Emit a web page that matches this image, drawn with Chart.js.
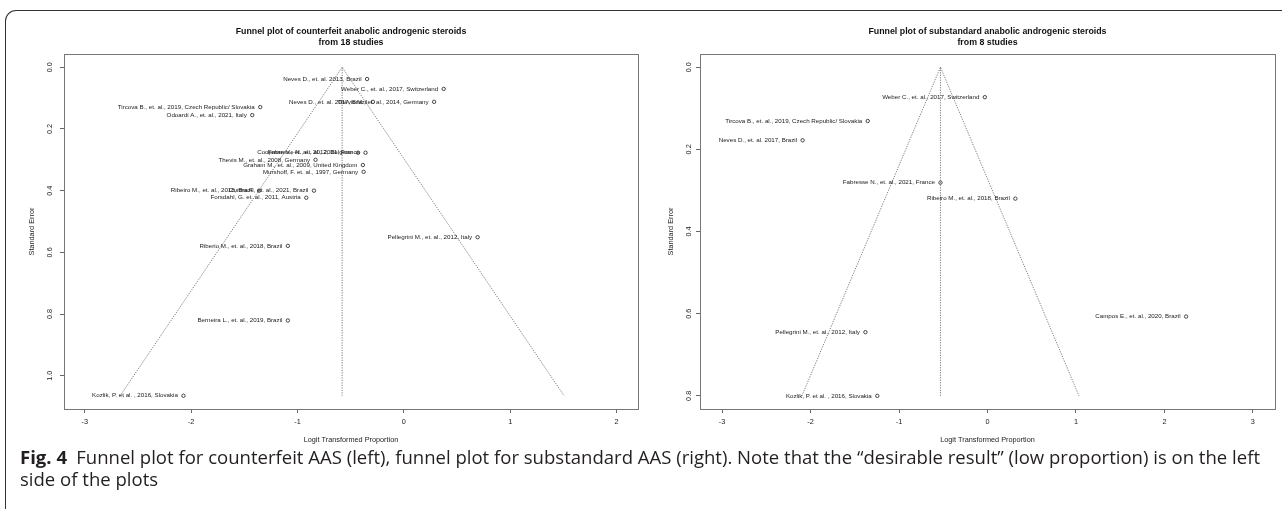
<!DOCTYPE html>
<html>
<head>
<meta charset="utf-8">
<script src="https://cdn.jsdelivr.net/npm/chart.js@4.4.1/dist/chart.umd.min.js"></script>
<style>
  html, body { margin: 0; padding: 0; background: #fff; }
  body { width: 1282px; height: 509px; position: relative; overflow: hidden; }
  #frame { position: absolute; left: 5px; top: 10px; width: 1300px; height: 530px;
           border-top: 1.5px solid #333; border-left: 1.5px solid #333; border-top-left-radius: 11px; }
  #cvL { position: absolute; left: 0; top: 0; }
  #cvR { position: absolute; left: 650px; top: 0; }
  #caption { position: absolute; left: 20px; top: 446px; color: #231f20; white-space: nowrap;
             font-family: "Open Sans", "Noto Sans", sans-serif;
             font-size: 17.5px; line-height: 22px; transform-origin: 0 0; }
  #caption b { font-weight: 700; }
</style>
</head>
<body>
<div id="frame"></div>
<canvas id="cvL" width="650" height="455"></canvas>
<canvas id="cvR" width="632" height="455"></canvas>
<div id="caption"><span id="capLine1"><b>Fig. 4</b>&ensp;Funnel plot for counterfeit AAS (left), funnel plot for substandard AAS (right). Note that the “desirable result” (low proportion) is on the left</span><br>side of the plots</div>

<script>
// ─── Counterfeit AAS (left panel) ────────────────────────────────────────────
const cfStudies = [
  'Neves D., et. al. 2013, Brazil',
  'Weber C., et. al., 2017, Switzerland',
  'Neves D., et. al. 2017, Brazil',
  'Thevis M., et. al., 2014, Germany',
  'Tircova B., et. al., 2019, Czech Republic/ Slovakia',
  'Odoardi A., et. al., 2021, Italy',
  'Coopman V., et. al., 2012, Belgium',
  'Fabresse N., et. al., 2021, France',
  'Thevis M., et. al., 2008, Germany',
  'Graham M., et. al., 2009, United Kingdom',
  'Murshoff, F. et. al., 1997, Germany',
  'Ribeiro M., et. al., 2018, Brazil',
  'Cunha F., et. al., 2021, Brazil',
  'Forsdahl, G. et. al., 2011, Austria',
  'Pellegrini M., et. al., 2012, Italy',
  'Riberio M., et. al., 2018, Brazil',
  'Berneira L., et. al., 2019, Brazil',
  'Kozlik, P. et al. , 2016, Slovakia'
];
const cfLogit = [-0.345, 0.375, -0.29, 0.285, -1.35, -1.425, -0.43, -0.36, -0.83, -0.385,
                 -0.378, -1.36, -0.845, -0.917, 0.694, -1.09, -1.09, -2.072];
const cfSE    = [0.038, 0.070, 0.112, 0.112, 0.129, 0.155, 0.277, 0.277, 0.300, 0.317,
                 0.339, 0.400, 0.400, 0.423, 0.551, 0.579, 0.821, 1.065];
const cfFunnelX = [-2.667, -0.58, 1.507];
const cfFunnelY = [1.065, 0, 1.065];
const cfMeanX   = [-0.58, -0.58];
const cfMeanY   = [0, 1.065];
const cfXRange  = [-3.195, 2.202];
const cfYRange  = [-0.043, 1.108];
const cfXTicks  = [-3, -2, -1, 0, 1, 2];
const cfYTicks  = [0, 0.2, 0.4, 0.6, 0.8, 1.0];

// ─── Substandard AAS (right panel) ───────────────────────────────────────────
const ssStudies = [
  'Weber C., et. al., 2017, Switzerland',
  'Tircova B., et. al., 2019, Czech Republic/ Slovakia',
  'Neves D., et. al. 2017, Brazil',
  'Fabresse N., et. al., 2021, France',
  'Ribeiro M., et. al., 2018, Brazil',
  'Campos E., et. al., 2020, Brazil',
  'Pellegrini M., et. al., 2012, Italy',
  'Kozlik, P. et al. , 2016, Slovakia'
];
const ssLogit = [-0.03, -1.354, -2.09, -0.532, 0.315, 2.245, -1.38, -1.246];
const ssSE    = [0.073, 0.131, 0.178, 0.281, 0.320, 0.607, 0.645, 0.800];
const ssFunnelX = [-2.098, -0.532, 1.034];
const ssFunnelY = [0.8, 0, 0.8];
const ssMeanX   = [-0.532, -0.532];
const ssMeanY   = [0, 0.8];
const ssXRange  = [-3.25, 3.25];
const ssYRange  = [-0.032, 0.832];
const ssXTicks  = [-3, -2, -1, 0, 1, 2, 3];
const ssYTicks  = [0, 0.2, 0.4, 0.6, 0.8];

const FONT = '"Liberation Sans", Arial, sans-serif';
Chart.defaults.font.family = FONT;
Chart.defaults.color = '#222';

const toPts = (xs, ys) => xs.map((x, i) => ({ x, y: ys[i] }));

// box, study labels and R-style rotated y tick labels
const funnelDecor = {
  id: 'funnelDecor',
  afterDatasetsDraw(chart, args, o) {
    const { ctx, chartArea: a } = chart;
    ctx.save();
    ctx.strokeStyle = '#777';
    ctx.lineWidth = 1;
    ctx.strokeRect(Math.round(a.left) + 0.5, Math.round(a.top) + 0.5,
                   Math.round(a.right - a.left), Math.round(a.bottom - a.top));

    const meta = chart.getDatasetMeta(2);
    ctx.font = '6.2px ' + FONT;
    ctx.fillStyle = '#1a1a1a';
    ctx.textAlign = 'right';
    ctx.textBaseline = 'middle';
    meta.data.forEach((pt, i) => ctx.fillText(o.names[i], pt.x - 5.5, pt.y));

    const ys = chart.scales.y;
    ctx.font = '7.3px ' + FONT;
    ctx.fillStyle = '#222';
    ctx.textAlign = 'center';
    ys.ticks.forEach(t => {
      ctx.save();
      ctx.translate(o.yLabelX, ys.getPixelForValue(t.value));
      ctx.rotate(-Math.PI / 2);
      ctx.fillText(t.value.toFixed(1), 0, 0);
      ctx.restore();
    });
    ctx.restore();
  }
};

function makeFunnel(id, p) {
  const dotted = { showLine: true, borderColor: '#5a5a5a', borderWidth: 0.8,
                   borderDash: [1.2, 1.3], pointRadius: 0, tension: 0 };
  return new Chart(document.getElementById(id), {
    type: 'scatter',
    data: {
      datasets: [
        { ...dotted, data: toPts(p.funnelX, p.funnelY) },
        { ...dotted, data: toPts(p.meanX, p.meanY) },
        { data: toPts(p.logit, p.se), pointRadius: 1.7, pointBorderWidth: 0.9,
          pointBorderColor: '#333', pointBackgroundColor: 'rgba(0,0,0,0)' }
      ]
    },
    options: {
      responsive: false, animation: false, events: [],
      layout: { padding: { left: 0, right: p.padRight, top: 0, bottom: 0 } },
      plugins: {
        legend: { display: false },
        tooltip: { enabled: false },
        title: { display: true, fullSize: false, text: p.title, color: '#111',
                 font: { size: 8.8, weight: 'bold', lineHeight: 1.15 },
                 padding: { top: 27, bottom: 6.8 } },
        funnelDecor: { names: p.names, yLabelX: p.yLabelX }
      },
      scales: {
        x: {
          type: 'linear', min: p.xRange[0], max: p.xRange[1],
          afterBuildTicks: s => { s.ticks = p.xTicks.map(v => ({ value: v })); },
          afterFit: s => { s.height = 46; },
          grid: { drawOnChartArea: false, drawTicks: true, tickLength: 4, color: '#666' },
          border: { display: false },
          ticks: { font: { size: 7.3 }, color: '#222', padding: 5, callback: v => String(v) },
          title: { display: true, text: 'Logit Transformed Proportion', color: '#222',
                   font: { size: 7.3 }, padding: { top: 0, bottom: 10.6 } }
        },
        y: {
          type: 'linear', reverse: true, min: p.yRange[0], max: p.yRange[1],
          afterBuildTicks: s => { s.ticks = p.yTicks.map(v => ({ value: v })); },
          afterFit: s => { s.width = p.yAxisW; },
          grid: { drawOnChartArea: false, drawTicks: true, tickLength: 4, color: '#666' },
          border: { display: false },
          ticks: { display: false },
          title: { display: true, text: 'Standard Error', color: '#222',
                   font: { size: 7.3 }, padding: { top: p.yTitlePad, bottom: 0 } }
        }
      }
    },
    plugins: [funnelDecor]
  });
}

makeFunnel('cvL', {
  title: ['Funnel plot of counterfeit anabolic androgenic steroids', 'from 18 studies'],
  names: cfStudies, logit: cfLogit, se: cfSE,
  funnelX: cfFunnelX, funnelY: cfFunnelY, meanX: cfMeanX, meanY: cfMeanY,
  xRange: cfXRange, yRange: cfYRange, xTicks: cfXTicks, yTicks: cfYTicks,
  yAxisW: 64, padRight: 12, yLabelX: 50, yTitlePad: 28
});

makeFunnel('cvR', {
  title: ['Funnel plot of substandard anabolic androgenic steroids', 'from 8 studies'],
  names: ssStudies, logit: ssLogit, se: ssSE,
  funnelX: ssFunnelX, funnelY: ssFunnelY, meanX: ssMeanX, meanY: ssMeanY,
  xRange: ssXRange, yRange: ssYRange, xTicks: ssXTicks, yTicks: ssYTicks,
  yAxisW: 50, padRight: 7, yLabelX: 39, yTitlePad: 16.5
});

// squeeze the caption so its first line spans the figure width
const cap = document.getElementById('caption');
const w1 = document.getElementById('capLine1').getBoundingClientRect().width;
cap.style.transform = 'scaleX(' + (1240 / w1) + ')';
</script>
</body>
</html>
